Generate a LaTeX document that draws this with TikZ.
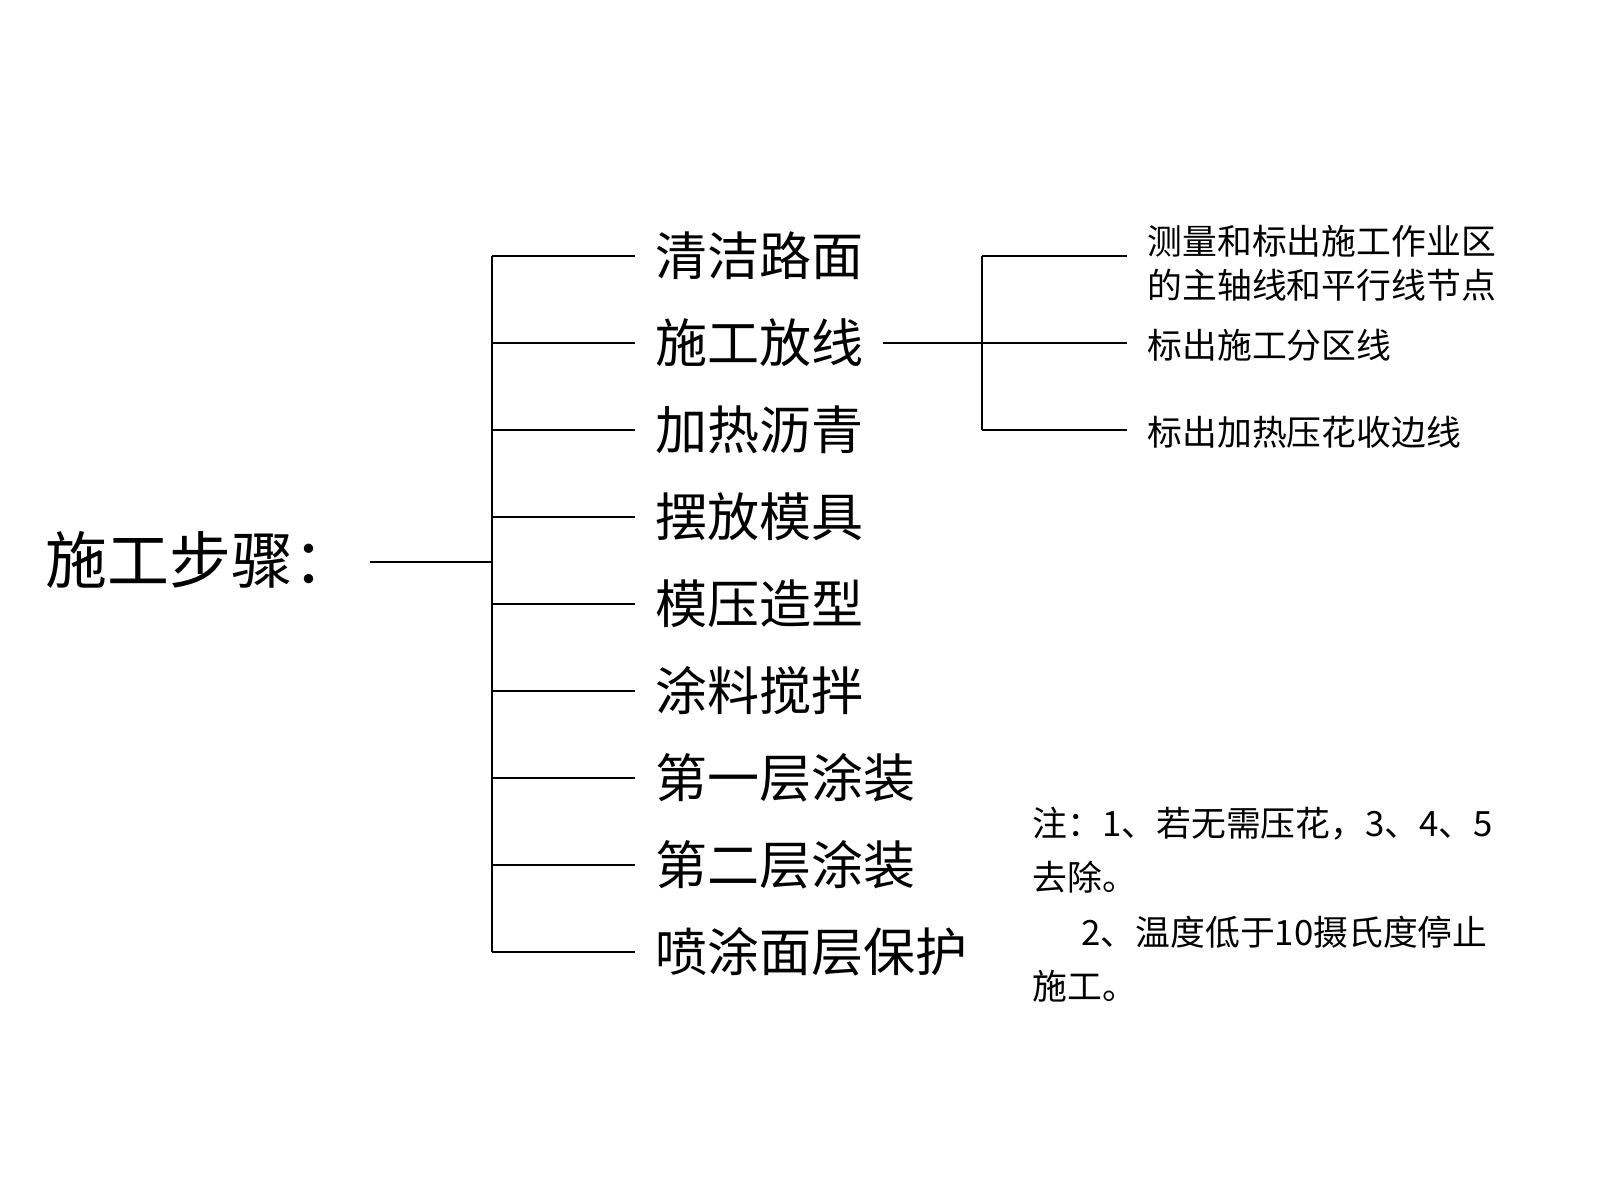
\documentclass[tikz,border=0pt]{standalone}
\usepackage{fontspec}
\setmainfont{Noto Sans CJK SC}
\usetikzlibrary{positioning}
\begin{document}
\begin{tikzpicture}[x=0.01cm,y=-0.01cm,
    stepname/.style={anchor=west, inner sep=0pt, font=\fontsize{14.8pt}{16pt}\selectfont},
    subname/.style={anchor=west, inner sep=0pt, align=left, font=\fontsize{9.9pt}{12.5pt}\selectfont},
    branch/.style={line width=0.7pt}]
    \useasboundingbox (0,0) rectangle (1600,1200);

    \node[anchor=west, inner sep=0pt, font=\fontsize{17.6pt}{19pt}\selectfont] (title) at (45,560) {施工步骤：};
    \coordinate (trunktop) at (492,256);
    \coordinate (trunkbot) at (492,952);
    \coordinate (trunkmid) at (492,562);
    \draw[branch] (370,562) coordinate (titleend) -- (trunkmid);
    \draw[branch] (trunktop) -- (trunkbot);

    % main steps
    \foreach \name/\txt [count=\i from 0] in {s1/清洁路面, s2/施工放线, s3/加热沥青, s4/摆放模具, s5/模压造型, s6/涂料搅拌, s7/第一层涂装, s8/第二层涂装, s9/喷涂面层保护} {
        \node[stepname] (\name) at (655,256+87*\i) {\txt};
        \coordinate (b\name) at (492,256+87*\i);
        \draw[branch] (b\name) -- ([xshift=-0.2cm]\name.west);
    }

    % sub steps of s2
    \coordinate (subtop) at (982,256);
    \coordinate (subbot) at (982,430);
    \coordinate (subjoin) at (982,343);
    \draw[branch] ([xshift=0.18cm]s2.east) -- (subjoin);
    \draw[branch] (subtop) -- (subbot);
    \node[subname] (t1) at (1147,263) {测量和标出施工作业区\\的主轴线和平行线节点};
    \node[subname] (t2) at (1147,345) {标出施工分区线};
    \node[subname] (t3) at (1147,432) {标出加热压花收边线};
    \draw[branch] (subtop) -- (1127,256) coordinate (e1);
    \draw[branch] (subjoin) -- (1127,343) coordinate (e2);
    \draw[branch] (subbot) -- (1127,430) coordinate (e3);

    % note
    \node[subname, anchor=north west, font=\fontsize{9.9pt}{15.5pt}\selectfont] (note) at (1032,806) {注：1、若无需压花，3、4、5\\去除。\\\hspace*{1.4em}2、温度低于10摄氏度停止\\施工。};
\end{tikzpicture}
\end{document}
